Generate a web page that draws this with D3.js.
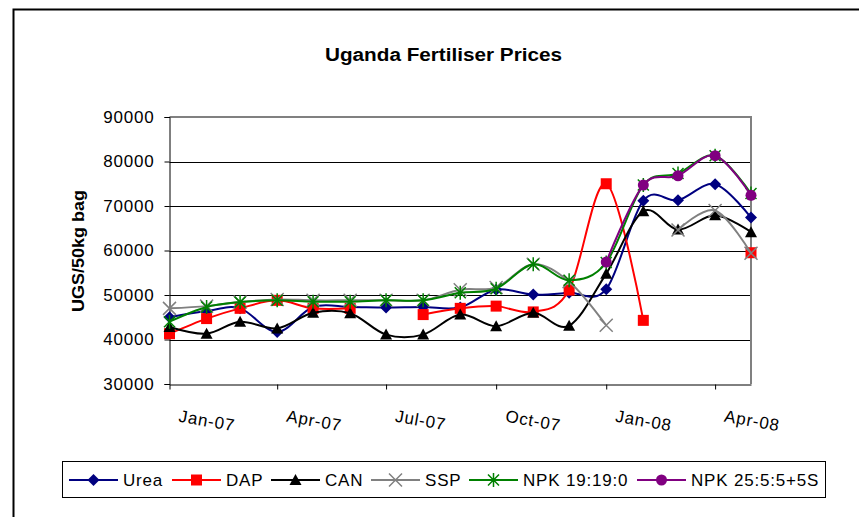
<!DOCTYPE html>
<html>
<head>
<meta charset="utf-8">
<script src="https://cdn.jsdelivr.net/npm/d3@7"></script>
<style>
  body { margin: 0; background: #fff; }
  svg { display: block; font-family: Arial, "Liberation Sans", sans-serif; }
</style>
</head>
<body>
<svg id="chart" width="859" height="517"></svg>
<script>
// months Jan-07 .. May-08
const months = d3.range(17).map(i => new Date(2007, i, 1));
const yTicks = [30000, 40000, 50000, 60000, 70000, 80000, 90000];

const urea  = [45000, 46400, 47000, 41700, 47300, 47300, 47200, 47300, 47200, 51200, 50100, 50500, 51300, 71200, 71300, 74900, 67400];
const dap   = [41300, 44700, 47000, 48800, 47000, 47000, null, 45600, 47000, 47500, 46200, 51100, 75000, 44300, null, null, 59500];
const can   = [42800, 41300, 44000, 42500, 46000, 45900, 41100, 41100, 45600, 43000, 46000, 43100, 54800, 68800, 64700, 67900, 64100];
const ssp   = [47000, 47500, 48400, 49000, 48800, 48800, 48800, 48800, 51200, 51700, 56900, 53000, 43200, null, 64600, 69000, 59400];
const npk19 = [44000, 47300, 48400, 48800, 48500, 48500, 48800, 48800, 50500, 51400, 56900, 53300, 57300, 74700, 77300, 81300, 72800];
const npk25 = [null, null, null, null, null, null, null, null, null, null, null, null, 57400, 74700, 76800, 81300, 72400];

const seriesNames = ["Urea", "DAP", "CAN", "SSP", "NPK 19:19:0", "NPK 25:5:5+5S"];
const seriesValues = [urea, dap, can, ssp, npk19, npk25];
const seriesColors = ["#000080", "#ff0000", "#000000", "#808080", "#008000", "#800080"];
const seriesMarkers = ["diamond", "square", "triangle", "cross", "star", "circle"];

const svg = d3.select("#chart");

// chart frame
svg.append("rect")
  .attr("x", 13.5).attr("y", 9.5)
  .attr("width", 900).attr("height", 600)
  .attr("fill", "none").attr("stroke", "#000").attr("stroke-width", 2);

const plotLeft = 169.5, plotRight = 751, plotTop = 117, plotBottom = 384;

const x = d3.scaleTime().domain([months[0], months[16]]).range([plotLeft, plotRight]);
const y = d3.scaleLinear().domain([30000, 90000]).range([plotBottom, plotTop]);

// gridlines
svg.append("g")
  .selectAll("line")
  .data(yTicks.filter(v => v > 30000 && v < 90000))
  .join("line")
  .attr("x1", plotLeft).attr("x2", plotRight)
  .attr("y1", d => Math.round(y(d)) + 0.5).attr("y2", d => Math.round(y(d)) + 0.5)
  .attr("stroke", "#000").attr("stroke-width", 1);

// plot border top / right (grey)
svg.append("path")
  .attr("d", `M${plotLeft},${plotTop}H${plotRight}V${plotBottom}`)
  .attr("fill", "none").attr("stroke", "#808080").attr("stroke-width", 2);

// y axis
const yAxis = svg.append("g")
  .attr("transform", `translate(${plotLeft},0)`)
  .call(d3.axisLeft(y).tickValues(yTicks).tickSize(5).tickPadding(10).tickFormat(d3.format("d")));
yAxis.select(".domain").attr("stroke", "#000");
yAxis.selectAll("text")
  .attr("font-size", 17).attr("letter-spacing", 0.8).attr("fill", "#000")
  .attr("font-family", "Arial, 'Liberation Sans', sans-serif");

// x axis
const xAxis = svg.append("g")
  .attr("transform", `translate(0,${plotBottom + 0.5})`)
  .call(d3.axisBottom(x).ticks(d3.timeMonth.every(3)).tickSize(5).tickSizeOuter(0)
    .tickFormat(d3.timeFormat("%b-%y")));
xAxis.select(".domain").attr("stroke", "#000");
xAxis.selectAll("text")
  .attr("font-size", 17).attr("letter-spacing", 0.8).attr("fill", "#000")
  .attr("font-family", "Arial, 'Liberation Sans', sans-serif")
  .attr("text-anchor", "start")
  .attr("dy", null)
  .attr("y", 0)
  .attr("transform", "translate(8,37) rotate(10)");

// markers
function markerPath(kind) {
  switch (kind) {
    case "diamond": return "M0,-6L6,0L0,6L-6,0Z";
    case "square": return "M-5.5,-5.5H5.5V5.5H-5.5Z";
    case "triangle": return "M0,-6L6,5L-6,5Z";
    case "cross": return "M-6.5,-6.5L6.5,6.5M-6.5,6.5L6.5,-6.5";
    case "star": return "M-5.5,-5.5L5.5,5.5M-5.5,5.5L5.5,-5.5M0,-7V7";
    case "circle": return "M-5.5,0A5.5,5.5 0 1,0 5.5,0A5.5,5.5 0 1,0 -5.5,0Z";
  }
}
const strokeMarkers = new Set(["cross", "star"]);

function drawMarker(g, kind, color, cx, cy) {
  const p = g.append("path")
    .attr("d", markerPath(kind))
    .attr("transform", `translate(${cx},${cy})`);
  if (strokeMarkers.has(kind)) {
    p.attr("fill", "none").attr("stroke", color).attr("stroke-width", 1.5);
  } else {
    p.attr("fill", color).attr("stroke", "none");
  }
}

const line = d3.line()
  .defined(d => d.v != null)
  .x(d => x(d.date))
  .y(d => y(d.v))
  .curve(d3.curveCatmullRom.alpha(0));

seriesValues.forEach((vals, si) => {
  const pts = vals.map((v, i) => ({ date: months[i], v }));
  const g = svg.append("g");
  g.append("path")
    .attr("d", line(pts))
    .attr("fill", "none")
    .attr("stroke", seriesColors[si])
    .attr("stroke-width", 2);
  pts.filter(d => d.v != null).forEach(d => {
    drawMarker(g, seriesMarkers[si], seriesColors[si], x(d.date), y(d.v));
  });
});

// title
svg.append("text")
  .attr("x", 443.5).attr("y", 61)
  .attr("text-anchor", "middle")
  .attr("font-size", 18).attr("font-weight", "bold")
  .attr("textLength", 237).attr("lengthAdjust", "spacingAndGlyphs")
  .text("Uganda Fertiliser Prices");

// y title
svg.append("text")
  .attr("transform", "translate(84,251) rotate(-90)")
  .attr("text-anchor", "middle")
  .attr("font-size", 16).attr("font-weight", "bold")
  .attr("textLength", 122).attr("lengthAdjust", "spacingAndGlyphs")
  .text("UGS/50kg bag");

// legend
const legendX = [69, 172, 271, 371, 469, 637];
const legend = svg.append("g");
legend.append("rect")
  .attr("x", 62.5).attr("y", 461.5)
  .attr("width", 763).attr("height", 36)
  .attr("fill", "#fff").attr("stroke", "#000").attr("stroke-width", 1);
seriesNames.forEach((name, si) => {
  const lx = legendX[si], ly = 480;
  legend.append("line")
    .attr("x1", lx).attr("x2", lx + 49)
    .attr("y1", ly).attr("y2", ly)
    .attr("stroke", seriesColors[si]).attr("stroke-width", 2);
  drawMarker(legend, seriesMarkers[si], seriesColors[si], lx + 24.5, ly);
  legend.append("text")
    .attr("x", lx + 54).attr("y", ly + 6)
    .attr("font-size", 17).attr("letter-spacing", 0.8)
    .text(name);
});
</script>
</body>
</html>
